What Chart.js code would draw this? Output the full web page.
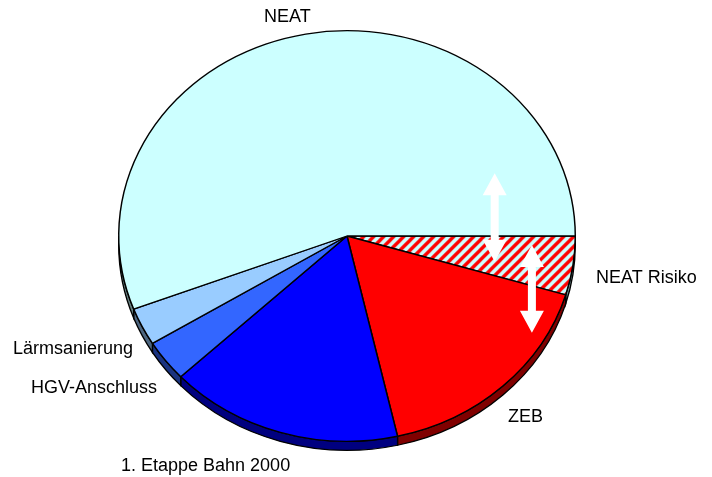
<!DOCTYPE html>
<html>
<head>
<meta charset="utf-8">
<script src="https://cdn.jsdelivr.net/npm/chart.js@4"></script>
<style>
  html, body { margin: 0; padding: 0; background: #fff; }
  #wrap { width: 712px; height: 477px; position: relative; }
</style>
</head>
<body>
<div id="wrap"><canvas id="c" width="712" height="477"></canvas></div>
<script>
// ---- data (bn CHF) ----
const categories = ["NEAT Risiko", "ZEB", "1. Etappe Bahn 2000", "HGV-Anschluss", "Lärmsanierung", "NEAT"];
const values = [1.65, 6.0, 5.9, 1.16, 1.06, 19.9];
const topColors = ["hatch", "#FF0000", "#0000FF", "#3366FF", "#99CCFF", "#CCFFFF"];
const sideColors = ["#6f8f8f", "#800000", "#000080", "#1a3380", "#4d6680", "#668080"];

const RX = 229 / 236, RY = 206 / 236; // ellipse squash relative to chart radius
const DEPTH = 9; // screen px

// ---- hatch pattern ----
function makeHatch() {
  const s = 10;
  const c = document.createElement('canvas');
  c.width = s; c.height = s;
  const g = c.getContext('2d');
  g.fillStyle = '#CCFFFF';
  g.fillRect(0, 0, s, s);
  g.strokeStyle = '#FF0000';
  g.lineWidth = 3.4;
  g.beginPath();
  for (let k = -1; k <= 1; k++) {
    g.moveTo(k * s - 1, s + 1);
    g.lineTo(k * s + s + 1, -1);
  }
  g.stroke();
  const p = g.createPattern(c, 'repeat');
  if (p.setTransform) p.setTransform(new DOMMatrix().scale(1 / RX, 1 / RY));
  return p;
}
const hatch = makeHatch();
const fills = topColors.map(c => c === 'hatch' ? hatch : c);

const tiltPlugin = {
  id: 'tilt',
  beforeDatasetsDraw(chart) {
    const ctx = chart.ctx;
    const meta = chart.getDatasetMeta(0);
    const a0 = meta.data[0];
    const cx = a0.x, cy = a0.y;
    ctx.save();
    ctx.translate(cx, cy);
    ctx.scale(RX, RY);
    ctx.translate(-cx, -cy);
    // side walls
    const d = DEPTH / RY;
    meta.data.forEach((arc, i) => {
      const r = arc.outerRadius;
      const norm = v => { let x = v % (2 * Math.PI); if (x < 0) x += 2 * Math.PI; return x; };
      const s = norm(arc.startAngle), e = s + (arc.endAngle - arc.startAngle);
      const a = Math.max(s, 0), b = Math.min(e, Math.PI);
      if (b <= a) return;
      ctx.beginPath();
      ctx.arc(cx, cy, r, a, b, false);
      ctx.lineTo(cx + r * Math.cos(b), cy + r * Math.sin(b) + d);
      ctx.arc(cx, cy + d, r, b, a, true);
      ctx.closePath();
      ctx.fillStyle = sideColors[i];
      ctx.fill();
      ctx.lineWidth = 1.4;
      ctx.strokeStyle = '#000';
      ctx.stroke();
    });
  },
  afterDatasetsDraw(chart) {
    chart.ctx.restore();
  },
  afterDraw(chart) {
    const ctx = chart.ctx;
    const meta = chart.getDatasetMeta(0);
    const a0 = meta.data[0];
    const cx = a0.x, cy = a0.y, R = a0.outerRadius;
    const rx = R * RX, ry = R * RY;
    // white double arrows
    function dblArrow(x, y1, y2) {
      const hw = 12, hl = 22, sw = 4;
      ctx.beginPath();
      ctx.moveTo(x, y1);
      ctx.lineTo(x + hw, y1 + hl);
      ctx.lineTo(x + sw, y1 + hl);
      ctx.lineTo(x + sw, y2 - hl);
      ctx.lineTo(x + hw, y2 - hl);
      ctx.lineTo(x, y2);
      ctx.lineTo(x - hw, y2 - hl);
      ctx.lineTo(x - sw, y2 - hl);
      ctx.lineTo(x - sw, y1 + hl);
      ctx.lineTo(x - hw, y1 + hl);
      ctx.closePath();
      ctx.fillStyle = '#fff';
      ctx.fill();
    }
    dblArrow(cx + 0.647 * rx, cy - 0.306 * ry, cy + 0.126 * ry);
    dblArrow(cx + 0.81 * rx, cy + 0.044 * ry, cy + 0.471 * ry);

    // labels
    ctx.save();
    ctx.fillStyle = '#000';
    ctx.font = '18px "Liberation Sans", Arial, sans-serif';
    ctx.textBaseline = 'alphabetic';
    const pos = [
      [596, 283, 'left'],   // NEAT Risiko
      [508, 422, 'left'],   // ZEB
      [121, 471, 'left'],   // 1. Etappe Bahn 2000
      [157, 393, 'right'],  // HGV-Anschluss
      [133, 354, 'right'],  // Lärmsanierung
      [264, 22, 'left']     // NEAT
    ];
    categories.forEach((t, i) => {
      ctx.textAlign = pos[i][2];
      ctx.fillText(t, pos[i][0], pos[i][1]);
    });
    ctx.restore();
  }
};

new Chart(document.getElementById('c'), {
  type: 'pie',
  data: {
    labels: categories,
    datasets: [{
      data: values,
      backgroundColor: fills,
      borderColor: '#000',
      borderWidth: 1.5,
      clip: false
    }]
  },
  options: {
    responsive: false,
    animation: false,
    rotation: 90,
    layout: { padding: { left: 0, right: 18, top: 0, bottom: 5 } },
    plugins: {
      legend: { display: false },
      tooltip: { enabled: false }
    },
    events: []
  },
  plugins: [tiltPlugin]
});
</script>
</body>
</html>
